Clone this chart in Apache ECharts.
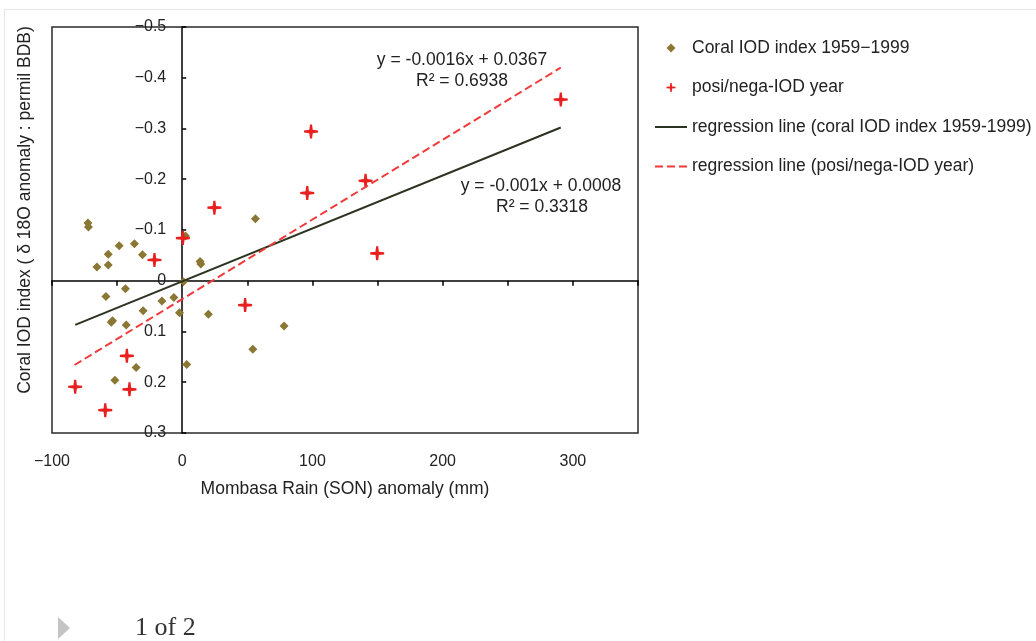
<!DOCTYPE html>
<html>
<head>
<meta charset="utf-8">
<script src="https://cdn.jsdelivr.net/npm/echarts@6/dist/echarts.min.js"></script>
<style>
html,body{margin:0;padding:0;background:#fff;}
#chart{width:1036px;height:641px;}
</style>
</head>
<body>
<div id="chart"></div>
<script>
// ---- data ----
const coralX = [-72.4,-72.0,-48.4,-36.7,-56.8,-30.5,-65.5,-56.8,-43.6,-58.6,-53.5,-54.5,-43.0,-30.0,-15.6,-6.4,-2.1,0.9,2.5,13.7,14.3,20.1,-35.4,-51.7,3.5,54.2,78.2,56.2];
const coralY = [-0.114,-0.106,-0.069,-0.073,-0.052,-0.051,-0.027,-0.031,0.016,0.031,0.079,0.082,0.087,0.059,0.040,0.033,0.063,0.002,-0.088,-0.038,-0.033,0.066,0.171,0.196,0.165,0.135,0.089,-0.122];
const iodX = [-21.3,0.5,-42.5,-82.2,-40.5,-59.1,24.7,98.9,96.0,140.8,48.3,149.7,290.7];
const iodY = [-0.041,-0.084,0.148,0.209,0.214,0.255,-0.144,-0.294,-0.173,-0.197,0.048,-0.054,-0.357];
const regCoralX = [-82.2, 290.7];
const regCoralY = [0.087, -0.302];
const regIodX = [-82.7, 290.7];
const regIodY = [0.166, -0.420];
const seriesNames = ['Coral IOD index 1959\u22121999', 'posi/nega-IOD year', 'regression line (coral IOD index 1959-1999)', 'regression line (posi/nega-IOD year)'];
const xTickLabels = [-100, 0, 100, 200, 300];
const yTickLabels = ['\u22120.5','\u22120.4','\u22120.3','\u22120.2','\u22120.1','0','0.1','0.2','0.3'];
const eqCoral = ['y = -0.001x + 0.0008', 'R\u00b2 = 0.3318'];
const eqIod = ['y = -0.0016x + 0.0367', 'R\u00b2 = 0.6938'];
const xTitle = 'Mombasa Rain (SON) anomaly (mm)';
const yTitle = 'Coral IOD index ( \u03b4 18O anomaly : permil BDB)';

const zip = (a, b) => a.map((v, i) => [v, b[i]]);
const FONT = '"Liberation Sans", Arial, sans-serif';
const diamond = 'path://M0,-1L1,0L0,1L-1,0Z';
const plus = 'path://M-1,-0.15L-0.24,-0.24L-0.15,-1L0.15,-1L0.24,-0.24L1,-0.15L1,0.15L0.24,0.24L0.15,1L-0.15,1L-0.24,0.24L-1,0.15Z';

const X_MIN = -100, X_MAX = 350, GRID_L = 52, GRID_W = 586;
const zeroOffset = -(0 - X_MIN) / (X_MAX - X_MIN) * GRID_W;
const noSym = {color: 'rgba(0,0,0,0)', borderWidth: 0};

const chart = echarts.init(document.getElementById('chart'), null, {renderer: 'canvas'});
chart.setOption({
  animation: false,
  backgroundColor: '#fff',
  grid: {left: GRID_L, top: 27, width: GRID_W, height: 406, show: true, borderColor: '#2a2a2a', borderWidth: 1.5, backgroundColor: 'transparent', containLabel: false},
  xAxis: [{
    type: 'value', min: X_MIN, max: X_MAX, interval: 50, position: 'bottom',
    axisLine: {show: true, onZero: true, onZeroAxisIndex: 0, lineStyle: {color: '#000', width: 1.5}},
    axisTick: {show: true, inside: false, length: 5, lineStyle: {color: '#000', width: 1.5}},
    axisLabel: {show: false}, splitLine: {show: false}
  }, {
    type: 'value', min: X_MIN, max: X_MAX, interval: 100, position: 'bottom',
    axisLine: {show: false, onZero: false}, axisTick: {show: false}, splitLine: {show: false},
    axisLabel: {show: true, margin: 21, fontFamily: FONT, fontSize: 16, color: '#222',
      formatter: v => xTickLabels.indexOf(Math.round(v)) >= 0 ? (v < 0 ? '\u2212' + Math.abs(v) : String(v)) : ''},
    name: xTitle, nameLocation: 'middle', nameGap: 47,
    nameTextStyle: {fontFamily: FONT, fontSize: 17.5, color: '#222'}
  }],
  yAxis: [{
    type: 'value', min: -0.5, max: 0.3, interval: 0.1, inverse: true,
    axisLine: {show: true, onZero: true, onZeroAxisIndex: 0, lineStyle: {color: '#000', width: 1.5}},
    axisTick: {show: true, inside: true, length: 4, lineStyle: {color: '#000', width: 1.5}},
    splitLine: {show: false}, axisLabel: {show: false}
  }, {
    type: 'value', min: -0.5, max: 0.3, interval: 0.1, inverse: true, position: 'left', offset: zeroOffset,
    axisLine: {show: false, onZero: false}, axisTick: {show: false}, splitLine: {show: false},
    axisLabel: {show: true, margin: 16, fontFamily: FONT, fontSize: 16, color: '#222',
      formatter: v => yTickLabels[Math.round((v + 0.5) * 10)] || ''}
  }],
  legend: {
    orient: 'vertical', left: 649, top: 33, itemWidth: 32, itemHeight: 9, itemGap: 19.5,
    textStyle: {fontFamily: FONT, fontSize: 17.5, color: '#222', lineHeight: 20},
    data: [
      {name: seriesNames[0], icon: diamond},
      {name: seriesNames[1], icon: plus},
      {name: seriesNames[2], itemStyle: noSym},
      {name: seriesNames[3], itemStyle: noSym}
    ]
  },
  series: [{
    name: seriesNames[0], type: 'scatter', xAxisIndex: 0, yAxisIndex: 0,
    symbol: diamond, symbolSize: 9, itemStyle: {color: '#8b7734', opacity: 1},
    data: zip(coralX, coralY), z: 3
  }, {
    name: seriesNames[1], type: 'scatter', xAxisIndex: 0, yAxisIndex: 0,
    symbol: plus, symbolSize: 14, itemStyle: {color: '#e82020', opacity: 1},
    data: zip(iodX, iodY), z: 4
  }, {
    name: seriesNames[2], type: 'line', xAxisIndex: 0, yAxisIndex: 0, symbol: 'none',
    lineStyle: {color: '#2c3320', width: 2}, itemStyle: {color: '#2c3320'},
    data: zip(regCoralX, regCoralY), z: 5
  }, {
    name: seriesNames[3], type: 'line', xAxisIndex: 0, yAxisIndex: 0, symbol: 'none',
    lineStyle: {color: '#ef3b3b', width: 2, type: [8, 4]}, itemStyle: {color: '#ef3b3b'},
    data: zip(regIodX, regIodY), z: 5
  }],
  graphic: [
    {type: 'line', shape: {x1: 4.5, y1: 9.5, x2: 1036, y2: 9.5}, style: {stroke: '#e6e6e6', lineWidth: 1}, silent: true},
    {type: 'line', shape: {x1: 4.5, y1: 9.5, x2: 4.5, y2: 641}, style: {stroke: '#e6e6e6', lineWidth: 1}, silent: true},
    {type: 'text', x: 25, y: 210, rotation: Math.PI / 2,
      style: {text: yTitle, font: '17.5px ' + FONT, fill: '#222', textAlign: 'center', textVerticalAlign: 'middle'}},
    {type: 'text', x: 462, y: 60, style: {text: eqIod[0], font: '17.5px ' + FONT, fill: '#222', textAlign: 'center', textVerticalAlign: 'middle'}},
    {type: 'text', x: 462, y: 81, style: {text: eqIod[1], font: '17.5px ' + FONT, fill: '#222', textAlign: 'center', textVerticalAlign: 'middle'}},
    {type: 'text', x: 541, y: 186, style: {text: eqCoral[0], font: '17.5px ' + FONT, fill: '#222', textAlign: 'center', textVerticalAlign: 'middle'}},
    {type: 'text', x: 542, y: 207, style: {text: eqCoral[1], font: '17.5px ' + FONT, fill: '#222', textAlign: 'center', textVerticalAlign: 'middle'}},
    {type: 'polygon', shape: {points: [[58, 617], [70, 628], [58, 639]]}, style: {fill: '#c4c4c4'}},
    {type: 'text', x: 135, y: 628, style: {text: '1 of 2', font: '26px "Liberation Serif", "Times New Roman", serif', fill: '#333', textAlign: 'left', textVerticalAlign: 'middle'}}
  ]
});
</script>
</body>
</html>
